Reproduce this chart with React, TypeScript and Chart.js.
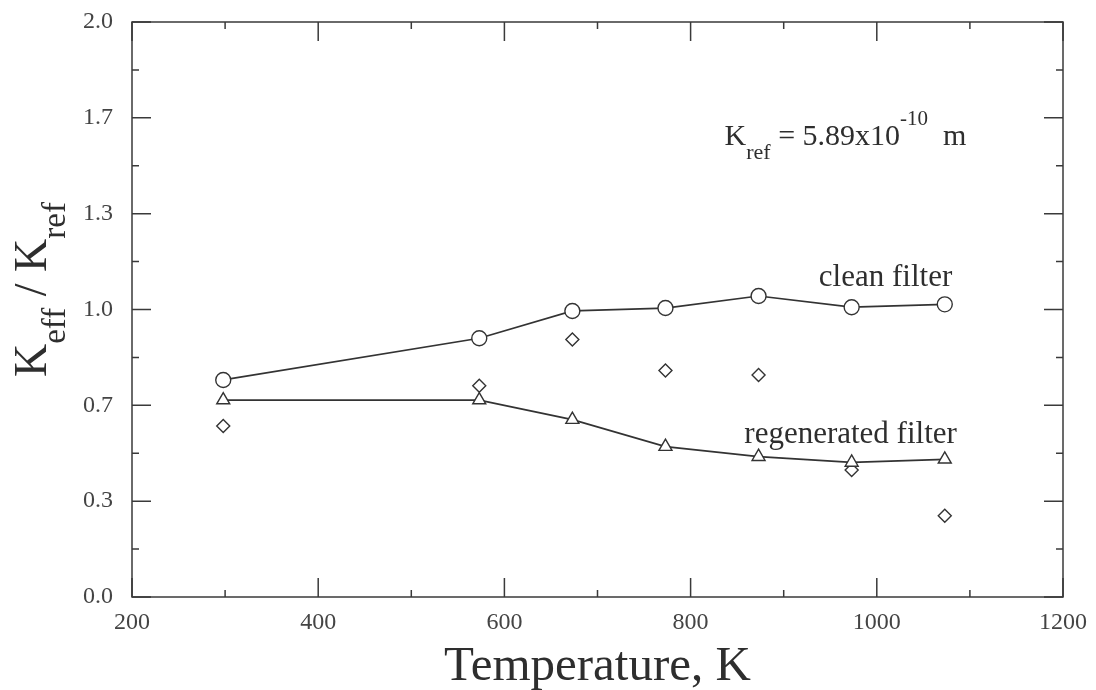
import React, { useEffect, useRef } from "react";
import { Chart, registerables } from "chart.js";

Chart.register(...registerables);

// ---- data ----
const temperatures = [298, 573, 673, 773, 873, 973, 1073];
const cleanFilter = [0.755, 0.9, 0.995, 1.005, 1.047, 1.008, 1.018];
const regeneratedFilter = [0.685, 0.685, 0.617, 0.523, 0.488, 0.468, 0.479];
const otherPoints = [0.595, 0.735, 0.896, 0.788, 0.772, 0.442, 0.283];

const xMajorTicks = [200, 400, 600, 800, 1000, 1200];
const xMinorTicks = [300, 500, 700, 900, 1100];
const yMajorTicks = [0, 1 / 3, 2 / 3, 1, 4 / 3, 5 / 3, 2];
const yMinorTicks = [1 / 6, 3 / 6, 5 / 6, 7 / 6, 9 / 6, 11 / 6];
const yTickLabels = ["0.0", "0.3", "0.7", "1.0", "1.3", "1.7", "2.0"];

const SERIF = '"Liberation Serif", "Times New Roman", serif';
const INK = "#2e2e2e";

type Seg = { t: string; size: number; dy: number };

function drawRich(ctx: CanvasRenderingContext2D, segs: Seg[], x: number, y: number, align: "left" | "right") {
  let total = 0;
  const widths: number[] = [];
  for (const s of segs) {
    ctx.font = `${s.size}px ${SERIF}`;
    const w = ctx.measureText(s.t).width;
    widths.push(w);
    total += w;
  }
  let cx = align === "right" ? x - total : x;
  ctx.textAlign = "left";
  ctx.textBaseline = "alphabetic";
  segs.forEach((s, i) => {
    ctx.font = `${s.size}px ${SERIF}`;
    ctx.fillText(s.t, cx, y + s.dy);
    cx += widths[i];
  });
}

const framePlugin = {
  id: "frameAndText",
  afterDraw(chart: any) {
    const ctx: CanvasRenderingContext2D = chart.ctx;
    const { left, right, top, bottom } = chart.chartArea;
    const xs = chart.scales.x;
    const ys = chart.scales.y;
    ctx.save();
    ctx.strokeStyle = "#3a3a3a";
    ctx.lineWidth = 1.5;
    ctx.strokeRect(left, top, right - left, bottom - top);
    const MAJ = 19;
    const MIN = 7;
    ctx.beginPath();
    const xt = (v: number, len: number) => {
      const px = xs.getPixelForValue(v);
      ctx.moveTo(px, bottom);
      ctx.lineTo(px, bottom - len);
      ctx.moveTo(px, top);
      ctx.lineTo(px, top + len);
    };
    const yt = (v: number, len: number) => {
      const py = ys.getPixelForValue(v);
      ctx.moveTo(left, py);
      ctx.lineTo(left + len, py);
      ctx.moveTo(right, py);
      ctx.lineTo(right - len, py);
    };
    xMajorTicks.forEach((v) => xt(v, MAJ));
    xMinorTicks.forEach((v) => xt(v, MIN));
    yMajorTicks.forEach((v) => yt(v, MAJ));
    yMinorTicks.forEach((v) => yt(v, MIN));
    ctx.stroke();

    ctx.fillStyle = INK;
    // x title
    ctx.font = `49px ${SERIF}`;
    ctx.textAlign = "center";
    ctx.textBaseline = "alphabetic";
    ctx.fillText("Temperature, K", (left + right) / 2, 680);

    // y title (rotated, with subscripts)
    ctx.save();
    ctx.translate(46, 377);
    ctx.rotate(-Math.PI / 2);
    drawRich(
      ctx,
      [
        { t: "K", size: 46, dy: 0 },
        { t: "eff", size: 33, dy: 19 },
        { t: " / ", size: 46, dy: 0 },
        { t: "K", size: 46, dy: 0 },
        { t: "ref", size: 33, dy: 19 },
      ],
      0,
      0,
      "left"
    );
    ctx.restore();

    // annotations
    drawRich(
      ctx,
      [
        { t: "K", size: 30, dy: 0 },
        { t: "ref", size: 22, dy: 14 },
        { t: " = 5.89x10", size: 30, dy: 0 },
        { t: "-10", size: 21, dy: -20 },
        { t: "  m", size: 30, dy: 0 },
      ],
      xs.getPixelForValue(836.5),
      ys.getPixelForValue(1.572),
      "left"
    );
    drawRich(ctx, [{ t: "clean filter", size: 31, dy: 0 }], xs.getPixelForValue(1081), ys.getPixelForValue(1.082), "right");
    drawRich(ctx, [{ t: "regenerated filter", size: 31, dy: 0 }], xs.getPixelForValue(1086), ys.getPixelForValue(0.536), "right");
    ctx.restore();
  },
};

export default function App() {
  const ref = useRef<HTMLCanvasElement | null>(null);
  useEffect(() => {
    if (!ref.current) return;
    const toPts = (ys: number[]) => temperatures.map((x, i) => ({ x, y: ys[i] }));
    const common = {
      borderColor: "#333",
      borderWidth: 1.7,
      pointBorderColor: "#333",
      pointBackgroundColor: "#ffffff",
      pointBorderWidth: 1.4,
    };
    const chart = new Chart(ref.current, {
      type: "scatter",
      data: {
        datasets: [
          { label: "clean filter", data: toPts(cleanFilter), showLine: true, pointStyle: "circle", pointRadius: 7.5, ...common },
          { label: "regenerated filter", data: toPts(regeneratedFilter), showLine: true, pointStyle: "triangle", pointRadius: 7.5, ...common },
          { label: "other", data: toPts(otherPoints), showLine: false, pointStyle: "rectRot", pointRadius: 6.5, ...common },
        ],
      },
      options: {
        animation: false,
        responsive: true,
        maintainAspectRatio: false,
        layout: { padding: { left: 0, top: 22, right: 33, bottom: 0 } },
        plugins: { legend: { display: false }, tooltip: { enabled: false } },
        scales: {
          x: {
            type: "linear",
            min: 200,
            max: 1200,
            grid: { display: false, drawTicks: false },
            border: { display: false },
            afterBuildTicks: (s: any) => {
              s.ticks = xMajorTicks.map((v) => ({ value: v }));
            },
            afterFit: (s: any) => {
              s.height = 93;
              s.paddingLeft = 0;
              s.paddingRight = 0;
            },
            ticks: {
              autoSkip: false,
              maxRotation: 0,
              padding: 11,
              color: "#444",
              font: { family: SERIF, size: 24 },
              callback: (v: any) => String(v),
            },
          },
          y: {
            type: "linear",
            min: 0,
            max: 2,
            grid: { display: false, drawTicks: false },
            border: { display: false },
            afterBuildTicks: (s: any) => {
              s.ticks = yMajorTicks.map((v) => ({ value: v }));
            },
            afterFit: (s: any) => {
              s.width = 132;
              s.paddingTop = 0;
              s.paddingBottom = 0;
            },
            ticks: {
              autoSkip: false,
              padding: 19,
              color: "#444",
              font: { family: SERIF, size: 24 },
              callback: (_v: any, i: number) => yTickLabels[i],
            },
          },
        },
      },
      plugins: [framePlugin],
    } as any);
    return () => chart.destroy();
  }, []);
  return (
    <div style={{ position: "fixed", left: 0, top: 0, width: 1096, height: 690, background: "#fff" }}>
      <canvas ref={ref} />
    </div>
  );
}
